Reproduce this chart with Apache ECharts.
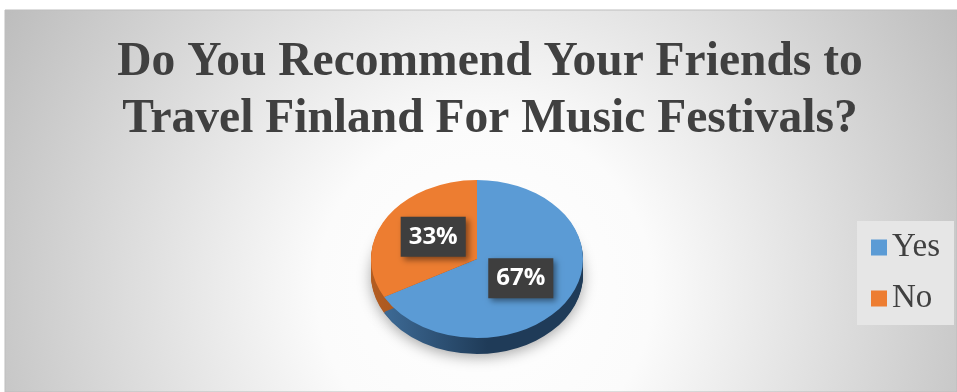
<!DOCTYPE html>
<html>
<head>
<meta charset="utf-8">
<style>
html,body{margin:0;padding:0;background:#fff;}
#main{width:957px;height:392px;}
</style>
<script src="https://cdn.jsdelivr.net/npm/echarts@6/dist/echarts.min.js"></script>
</head>
<body>
<div id="main"></div>
<script>
const categories = ['Yes', 'No'];
const values = [67, 33];
const labels = ['67%', '33%'];
const titleText = 'Do You Recommend Your Friends to\nTravel Finland For Music Festivals?';

const topColors = ['#5b9bd5', '#ed7d31'];
const sideLeft = ['#41709d', '#b35d22'];
const sideRight = ['#1f3b58', '#8a4516'];

const CX = 477, CY = 259, RA = 106, RB = 79, DEPTH = 16;
const total = values.reduce((s, v) => s + v, 0);

function makeRender(idx) {
  return function (params, api) {
    const v = api.value(0);
    let before = 0;
    for (let i = 0; i < idx; i++) before += values[i];
    const s = -Math.PI / 2 + before / total * Math.PI * 2;
    const e = s + v / total * Math.PI * 2;
    const k = RB / RA;
    const children = [];
    for (let d = DEPTH; d >= 1; d--) {
      const el = {
        type: 'sector',
        shape: { cx: 0, cy: d / k, r: RA, r0: 0, startAngle: s, endAngle: e, clockwise: true },
        style: {
          fill: {
            type: 'linear', x: -RA, y: 0, x2: RA, y2: 0, global: true,
            colorStops: [
              { offset: 0, color: sideLeft[idx] },
              { offset: 0.55, color: sideRight[idx] },
              { offset: 1, color: sideRight[idx] }
            ]
          }
        },
        z2: 1
      };
      if (d === DEPTH) {
        el.style.shadowBlur = 14;
        el.style.shadowColor = 'rgba(0,0,0,0.35)';
        el.style.shadowOffsetY = 3;
        el.z2 = 0;
      }
      children.push(el);
    }
    children.push({
      type: 'sector',
      shape: { cx: 0, cy: 0, r: RA, r0: 0, startAngle: s, endAngle: e, clockwise: true },
      style: { fill: topColors[idx] },
      z2: 10
    });
    const m = (s + e) / 2;
    const f = 0.48;
    return {
      type: 'group',
      children: [
        { type: 'group', x: CX, y: CY, scaleY: k, children: children },
        {
          type: 'text',
          x: CX + Math.cos(m) * RA * f,
          y: CY + Math.sin(m) * RB * f - (idx === 1 ? 3 : 0),
          z2: 20,
          style: {
            text: labels[idx],
            fill: '#ffffff',
            fontSize: 24,
            fontWeight: 'bold',
            fontFamily: '"Open Sans", sans-serif',
            align: 'center',
            verticalAlign: 'middle',
            backgroundColor: '#3e3e3e',
            padding: [8, 8, 8, 8],
            shadowBlur: 6,
            shadowColor: 'rgba(0,0,0,0.45)',
            shadowOffsetX: 3,
            shadowOffsetY: 3
          }
        }
      ]
    };
  };
}

const chart = echarts.init(document.getElementById('main'));
chart.setOption({
  animation: false,
  backgroundColor: '#ffffff',
  graphic: [{
    type: 'rect',
    z: -10,
    shape: { x: 5, y: 10, width: 952, height: 382 },
    style: {
      fill: {
        type: 'radial', x: 485, y: 290, r: 560, global: true,
        colorStops: [
          { offset: 0, color: '#ffffff' },
          { offset: 0.3, color: '#fbfbfb' },
          { offset: 1, color: '#bcbcbc' }
        ]
      },
      stroke: '#bdbdbd',
      lineWidth: 1
    }
  }],
  title: {
    text: titleText,
    left: 485,
    textAlign: 'center',
    top: 29,
    textStyle: {
      fontFamily: '"Liberation Serif", serif',
      fontSize: 47.5,
      fontWeight: 'bold',
      color: '#404040',
      lineHeight: 57
    }
  },
  legend: {
    orient: 'vertical',
    left: 857,
    top: 221,
    padding: [10, 14, 10, 14],
    backgroundColor: '#e6e6e6',
    itemWidth: 16,
    itemHeight: 16,
    itemGap: 18,
    icon: 'rect',
    data: categories,
    textStyle: {
      fontFamily: '"Liberation Serif", serif',
      fontSize: 33,
      color: '#404040',
      lineHeight: 33
    }
  },
  series: categories.map((name, i) => ({
    type: 'custom',
    name: name,
    coordinateSystem: 'none',
    itemStyle: { color: topColors[i] },
    renderItem: makeRender(i),
    data: [values[i]]
  }))
});
</script>
</body>
</html>
